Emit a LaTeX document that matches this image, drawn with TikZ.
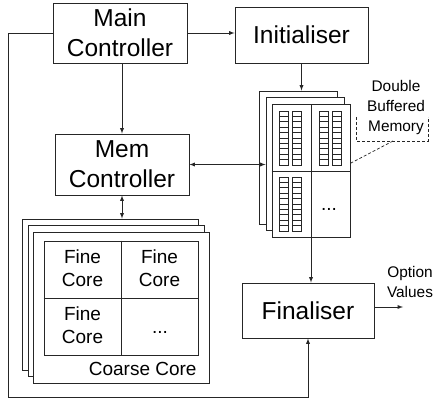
\documentclass[tikz,border=0pt]{standalone}
\usepackage{fontspec}
\setmainfont{Liberation Sans}
\usetikzlibrary{positioning}
\tikzset{
    block/.style={draw=black!85, fill=white, line width=0.9pt, inner sep=0pt, align=center,
        font=\fontsize{24.5}{30}\selectfont},
    layer/.style={draw=black!85, fill=white, line width=0.9pt, inner sep=0pt},
    celltext/.style={inner sep=0pt, align=center, font=\fontsize{19}{23}\selectfont},
    note/.style={inner sep=0pt, align=center, font=\fontsize{15.4}{20}\selectfont},
    cell/.style={draw=black!85, line width=0.6pt}
}

\begin{document}
\begin{tikzpicture}[x=1pt, y=-1pt, line width=0.9pt, draw=black!85]
	\useasboundingbox (0,0) rectangle (437,401);

	\node[block, minimum width=134pt, minimum height=60pt] (main) at (120,33) {Main\\Controller};
	\node[block, minimum width=133pt, minimum height=56pt] (init) at (301.5,35) {Initialiser};
	\node[block, minimum width=134pt, minimum height=61pt] (mem) at (122,164.5) {Mem\\Controller};
	\node[block, minimum width=132pt, minimum height=55pt] (fin) at (308,310.5) {Finaliser};

	% double buffered memory
	\node[layer, minimum width=78pt, minimum height=133pt] (memback) at (298,157.5) {};
	\node[layer, minimum width=78pt, minimum height=133pt] (memmid) at (305,164) {};
	\node[layer, minimum width=78pt, minimum height=133pt] (memfront) at (311,171) {};
	\draw (memfront.north) -- (memfront.south);
	\draw (memfront.west) -- (memfront.east);
	\foreach \bx/\by in {279/111, 319/111, 279/177} {
		\foreach \cx in {0,13.5} {
			\foreach \row in {0,...,9} {
				\draw[cell] (\bx+\cx, \by+5.4*\row) rectangle ++(9,5.4);
			}
		}
	}
	\node[celltext] (memdots) at (329,209) {...};

	\node[note] (dbm) at (396,108) {Double\\Buffered\\Memory};
	\coordinate (brk) at (393,141);
	\coordinate (memtip) at (351,163);
	\draw[dash pattern=on 3pt off 2pt, line width=0.7pt] (356,117) -- (356,141) -- (428,141) -- (428,117);
	\draw[dash pattern=on 3pt off 2pt, line width=0.7pt] (brk) -- (memtip);

	% coarse core
	\node[layer, minimum width=176pt, minimum height=151pt] (coarseback) at (110,294.5) {};
	\node[layer, minimum width=176pt, minimum height=151pt] (coarsemid) at (116,301) {};
	\node[layer, minimum width=176pt, minimum height=151pt] (coarsefront) at (121,307.5) {};
	\node[layer, minimum width=154pt, minimum height=114pt] (grid) at (121,298) {};
	\draw (grid.north) -- (grid.south);
	\draw (grid.west) -- (grid.east);
	\node[celltext] (fine1) at (82.5,268.5) {Fine\\Core};
	\node[celltext] (fine2) at (159.5,268.5) {Fine\\Core};
	\node[celltext] (fine3) at (82.5,325.5) {Fine\\Core};
	\node[celltext] (finedots) at (160,332) {...};
	\node[celltext, anchor=east] (coarse) at (197,369) {Coarse Core};

	\node[note] (optval) at (410,281.5) {Option\\Values};
	\coordinate (out) at (403,307);
	\coordinate (loop) at (8,397);

	% arrows
	\draw[-latex] (main.east) -- (main.east -| init.west);
	\draw[-latex] (main.south -| mem.north) -- (mem.north);
	\draw[-latex] (init.south) -- (init.south |- memback.north);
	\draw[latex-latex] (mem.east) -- (mem.east -| memmid.west);
	\draw[latex-latex] (mem.south) -- (mem.south |- coarseback.north);
	\draw[-latex] (memfront.south) -- (memfront.south |- fin.north);
	\draw[-latex] (out -| fin.east) -- (out);
	\draw[-latex] (main.west) -| (loop) -| (fin.south);
\end{tikzpicture}
\end{document}
